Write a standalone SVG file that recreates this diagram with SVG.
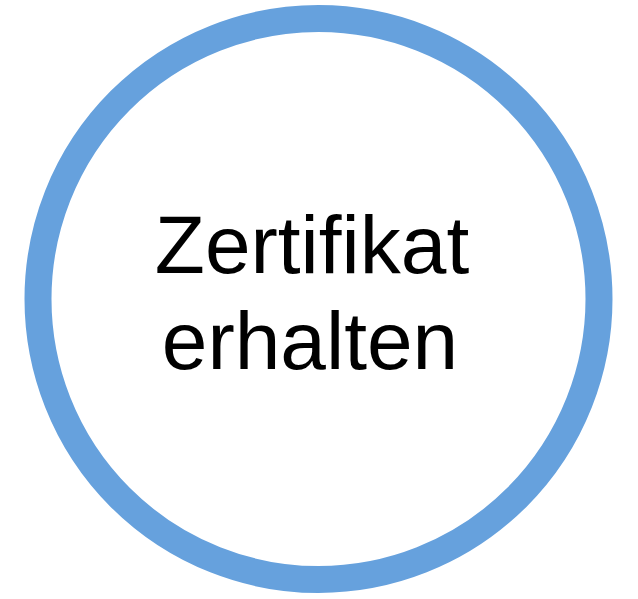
<svg xmlns="http://www.w3.org/2000/svg" width="638" height="599" viewBox="0 0 638 599">
<style>
.lbl{font-family:"Liberation Sans",Arial,sans-serif;font-size:82px;fill:#000;text-anchor:middle}
</style>
<rect width="638" height="599" fill="#fff"/>
<g id="node1">
<circle cx="318.5" cy="299" r="280.5" fill="#fff" stroke="#66A1DD" stroke-width="27"/>
<text class="lbl" x="312" y="273">Zertifikat</text>
<text class="lbl" x="310" y="369">erhalten</text>
</g>
<g id="connectors"/>
</svg>
